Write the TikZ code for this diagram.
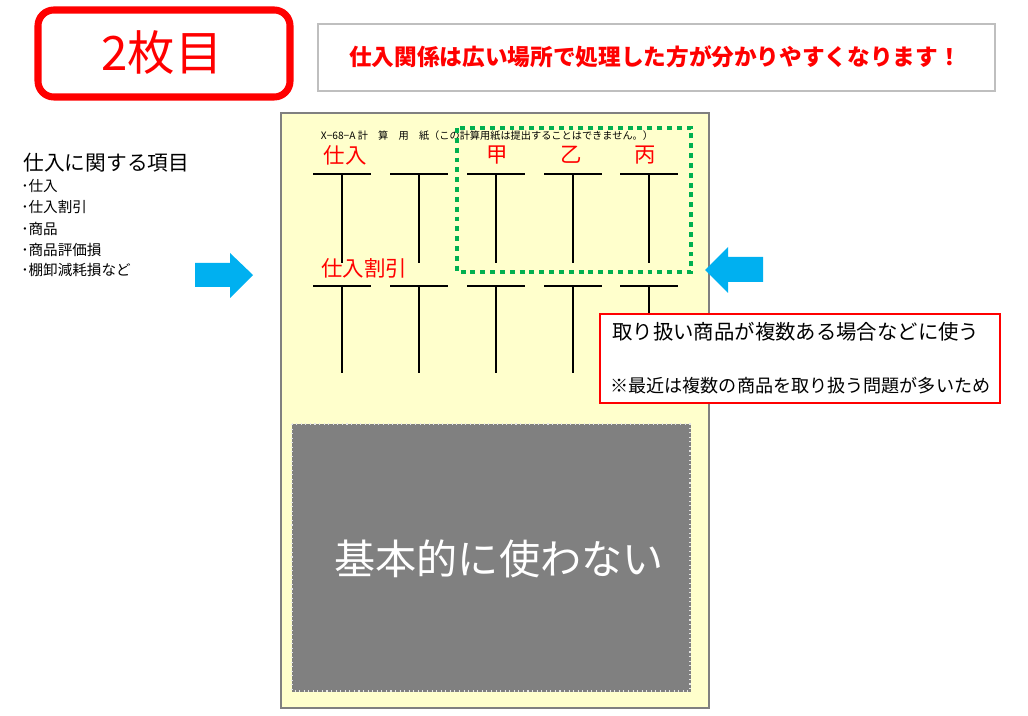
\documentclass[tikz,border=0pt]{standalone}
\usepackage{fontspec}
\setmainfont{Noto Sans CJK JP}
\usetikzlibrary{positioning}
\definecolor{sheet}{HTML}{FFFFCC}
\definecolor{arrowblue}{HTML}{00B0F0}
\definecolor{dotgreen}{HTML}{00B050}
\definecolor{framegray}{HTML}{BFBFBF}
\definecolor{unused}{HTML}{808080}
\tikzset{
  redlabel/.style={text=red,font=\fontsize{12.2}{13}\selectfont,inner sep=0pt},
  listitem/.style={anchor=west,inner sep=0pt,font=\fontsize{8.3}{9}\selectfont},
  tbar/.style={line width=0.6pt},
  bluearrow/.style={fill=arrowblue,draw=none}
}

\begin{document}
\begin{tikzpicture}[x=0.02cm,y=-0.02cm]
  \useasboundingbox (0,0) rectangle (1028,716);

  % title boxes
  \draw[red,line width=4pt,rounded corners=9pt] (38,10) rectangle (290,97);
  \node[text=red,font=\fontsize{27}{28}\selectfont,inner sep=0pt] (title) at (162,53) {2枚目};
  \draw[framegray,line width=0.8pt] (318,24) rectangle (995,91);
  \node[text=red,font=\bfseries\fontsize{12.9}{13}\selectfont,inner sep=0pt] (note) at (655,57)
    {仕入関係は広い場所で処理した方が分かりやすくなります！};

  % left list
  \node[anchor=west,inner sep=0pt,font=\fontsize{11.8}{12}\selectfont] (head) at (23,163) {仕入に関する項目};
  \node[listitem] (i1) at (21,186) {･仕入};
  \node[listitem] (i2) at (21,207) {･仕入割引};
  \node[listitem] (i3) at (21,229) {･商品};
  \node[listitem] (i4) at (21,250) {･商品評価損};
  \node[listitem] (i5) at (21,270) {･棚卸減耗損など};

  % calculation sheet
  \draw[gray,fill=sheet,line width=0.6pt] (281,113) rectangle (709,708);
  \node[inner sep=0pt,font=\fontsize{5.8}{7}\selectfont] (sheethead) at (487,136)
    {X−68−A 計　算　用　紙（この計算用紙は提出することはできません。）};

  \foreach \x in {342,419,496,573,649} {
    \draw[tbar] (\x-29,174) -- (\x+29,174);
    \draw[tbar] (\x,174) -- (\x,263);
    \draw[tbar] (\x-29,286) -- (\x+29,286);
    \draw[tbar] (\x,286) -- (\x,373);
  }

  \node[redlabel] (shiire) at (345,155) {仕入};
  \node[redlabel] (kou) at (497,155) {甲};
  \node[redlabel] (otsu) at (571,155) {乙};
  \node[redlabel] (hei) at (645,155) {丙};
  \node[redlabel] (waribiki) at (364,268) {仕入割引};

  \draw[dotgreen,line width=2.8pt,dash pattern=on 2.8pt off 2.8pt] (457,128) rectangle (691,272);

  \draw[unused,fill=unused] (292,424) rectangle (690,691);
  \draw[white!80!gray,line width=0.6pt,dotted] (292,424) rectangle (690,691);
  \node[text=white,font=\fontsize{23.4}{24}\selectfont,inner sep=0pt] (notused) at (499,559) {基本的に使わない};

  % arrows
  \fill[bluearrow] (195,263) -- (230,263) -- (230,253) -- (253,275) -- (230,298) -- (230,287) -- (195,287) -- cycle;
  \fill[bluearrow] (763,257) -- (728,257) -- (728,247) -- (705,270) -- (728,293) -- (728,282) -- (763,282) -- cycle;

  % callout
  \draw[red,fill=white,line width=0.8pt] (600,314) rectangle (1000,403);
  \node[anchor=west,inner sep=0pt,font=\fontsize{11.6}{12}\selectfont] (multi) at (612,332)
    {取り扱い商品が複数ある場合などに使う};
  \node[anchor=west,inner sep=0pt,font=\fontsize{10.3}{11}\selectfont] (reason) at (610,386)
    {※最近は複数の商品を取り扱う問題が多いため};

\end{tikzpicture}
\end{document}
